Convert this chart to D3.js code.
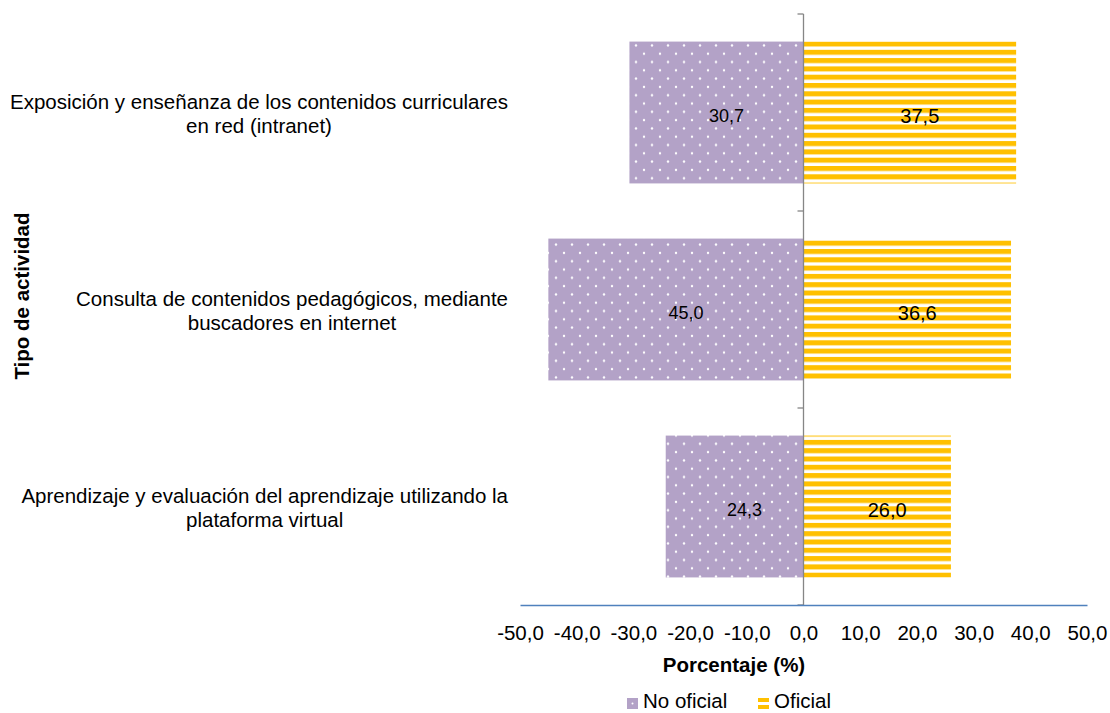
<!DOCTYPE html>
<html><head><meta charset="utf-8">
<script src="https://cdn.jsdelivr.net/npm/d3@7/dist/d3.min.js"></script>
<style>body{margin:0;background:#fff;font-family:"Liberation Sans",Arial,sans-serif;}</style>
</head><body>
<svg id="c" width="1110" height="713"></svg>
<script>
const categories = [
  ["Exposición y enseñanza de los contenidos curriculares", "en red (intranet)"],
  ["Consulta de contenidos pedagógicos, mediante", "buscadores en internet"],
  ["Aprendizaje y evaluación del aprendizaje utilizando la", "plataforma virtual"]
];
const noOficial = [30.7, 45.0, 24.3];
const oficial = [37.5, 36.6, 26.0];
const xTicks = [-50, -40, -30, -20, -10, 0, 10, 20, 30, 40, 50];
const seriesNames = ["No oficial", "Oficial"];

const svg = d3.select("#c");
const font = '"Liberation Sans", Arial, sans-serif';
const purple = "#b3a2c7", yellow = "#ffc000";
const FS = 20.5;

const defs = svg.append("defs");
const pd = defs.append("pattern").attr("id","dots").attr("patternUnits","userSpaceOnUse")
  .attr("width",16).attr("height",16.6);
pd.append("rect").attr("width",16).attr("height",16.6).attr("fill",purple);
pd.append("circle").attr("cx",4).attr("cy",4).attr("r",1.2).attr("fill","#fff");
pd.append("circle").attr("cx",12).attr("cy",12.3).attr("r",1.2).attr("fill","#fff");
const ps = defs.append("pattern").attr("id","stripes").attr("patternUnits","userSpaceOnUse")
  .attr("width",8).attr("height",8.3);
ps.append("rect").attr("width",8).attr("height",8.3).attr("fill","#fff");
ps.append("rect").attr("y",0).attr("width",8).attr("height",5).attr("fill",yellow);

const x = d3.scaleLinear().domain([-50,50]).range([520,1087]);
const y = d3.scaleBand().domain(d3.range(categories.length)).range([14,605]).paddingInner(0.28).paddingOuter(0.14);
const fmt = v => d3.format(".1f")(v).replace(".", ",").replace("\u2212", "-");

// bars
svg.selectAll(".bn").data(noOficial).enter().append("rect")
  .attr("x", d => x(-d)).attr("width", d => x(0)-x(-d))
  .attr("y", (d,i) => y(i)).attr("height", y.bandwidth()).attr("fill","url(#dots)");
svg.selectAll(".bo").data(oficial).enter().append("rect")
  .attr("x", x(0)).attr("width", d => x(d)-x(0))
  .attr("y", (d,i) => y(i)).attr("height", y.bandwidth()).attr("fill","url(#stripes)");

// vertical axis (at 0)
const yEdges = d3.range(categories.length+1).map(i => 14 + i*(591/categories.length));
svg.append("line").attr("x1",x(0)).attr("x2",x(0)).attr("y1",14).attr("y2",605)
  .attr("stroke","#868686").attr("stroke-width",1.3);
svg.selectAll(".yt").data(yEdges).enter().append("line")
  .attr("x1",x(0)-6).attr("x2",x(0)).attr("y1",d=>d).attr("y2",d=>d)
  .attr("stroke","#868686").attr("stroke-width",1.3);

// horizontal axis
const xa = svg.append("g").attr("transform","translate(0,605)")
  .call(d3.axisBottom(x).tickValues(xTicks).tickSize(0).tickPadding(20).tickFormat(fmt));
xa.select(".domain").attr("stroke","#4f81bd").attr("stroke-width",1.3);
xa.selectAll("text").attr("font-family",font).attr("font-size",FS).attr("fill","#000");

// value labels (slightly nudged as in the reference)
const nudgeX = 10, nudgeY = 3;
svg.selectAll(".ln").data(noOficial).enter().append("text")
  .attr("x", d => (x(-d)+x(0))/2 + nudgeX).attr("y",(d,i)=>y(i)+y.bandwidth()/2 + nudgeY)
  .attr("dy","0.35em").attr("text-anchor","middle").attr("font-family",font).attr("font-size",18)
  .text(d=>fmt(d));
svg.selectAll(".lo").data(oficial).enter().append("text")
  .attr("x", d => (x(d)+x(0))/2 + nudgeX).attr("y",(d,i)=>y(i)+y.bandwidth()/2 + nudgeY)
  .attr("dy","0.35em").attr("text-anchor","middle").attr("font-family",font).attr("font-size",20)
  .text(d=>fmt(d));

// category labels
categories.forEach((lines,i) => {
  const cy = y(i) + y.bandwidth()/2 + 1;
  const g = svg.append("g");
  const ts = lines.map((l,j) => g.append("text").attr("y", cy + (j - (lines.length-1)/2)*24)
    .attr("dy","0.35em").attr("text-anchor","middle").attr("font-family",font).attr("font-size",FS).text(l));
  const maxW = d3.max(ts, t => t.node().getComputedTextLength());
  ts.forEach(t => t.attr("x", 508 - maxW/2));
});

// axis titles
svg.append("text").attr("x",734).attr("y",672)
  .attr("text-anchor","middle").attr("font-family",font).attr("font-size",FS).attr("font-weight","bold")
  .text("Porcentaje (%)");
svg.append("text").attr("transform","translate(22,296) rotate(-90)").attr("dy","0.35em")
  .attr("text-anchor","middle").attr("font-family",font).attr("font-size",FS).attr("font-weight","bold")
  .text("Tipo de actividad");

// legend
const lg = svg.append("g");
const lx = [627, 758];
seriesNames.forEach((n,i) => {
  if (i === 0) {
    lg.append("rect").attr("x",lx[i]).attr("y",698).attr("width",11).attr("height",11).attr("fill",purple);
    lg.append("circle").attr("cx",lx[i]+5.5).attr("cy",703.5).attr("r",1).attr("fill","#fff");
  } else {
    lg.append("rect").attr("x",lx[i]).attr("y",698).attr("width",11).attr("height",4).attr("fill",yellow);
    lg.append("rect").attr("x",lx[i]).attr("y",705).attr("width",11).attr("height",4).attr("fill",yellow);
  }
  lg.append("text").attr("x",lx[i]+16).attr("y",708)
    .attr("font-family",font).attr("font-size",FS).text(n);
});
</script>
</body></html>
